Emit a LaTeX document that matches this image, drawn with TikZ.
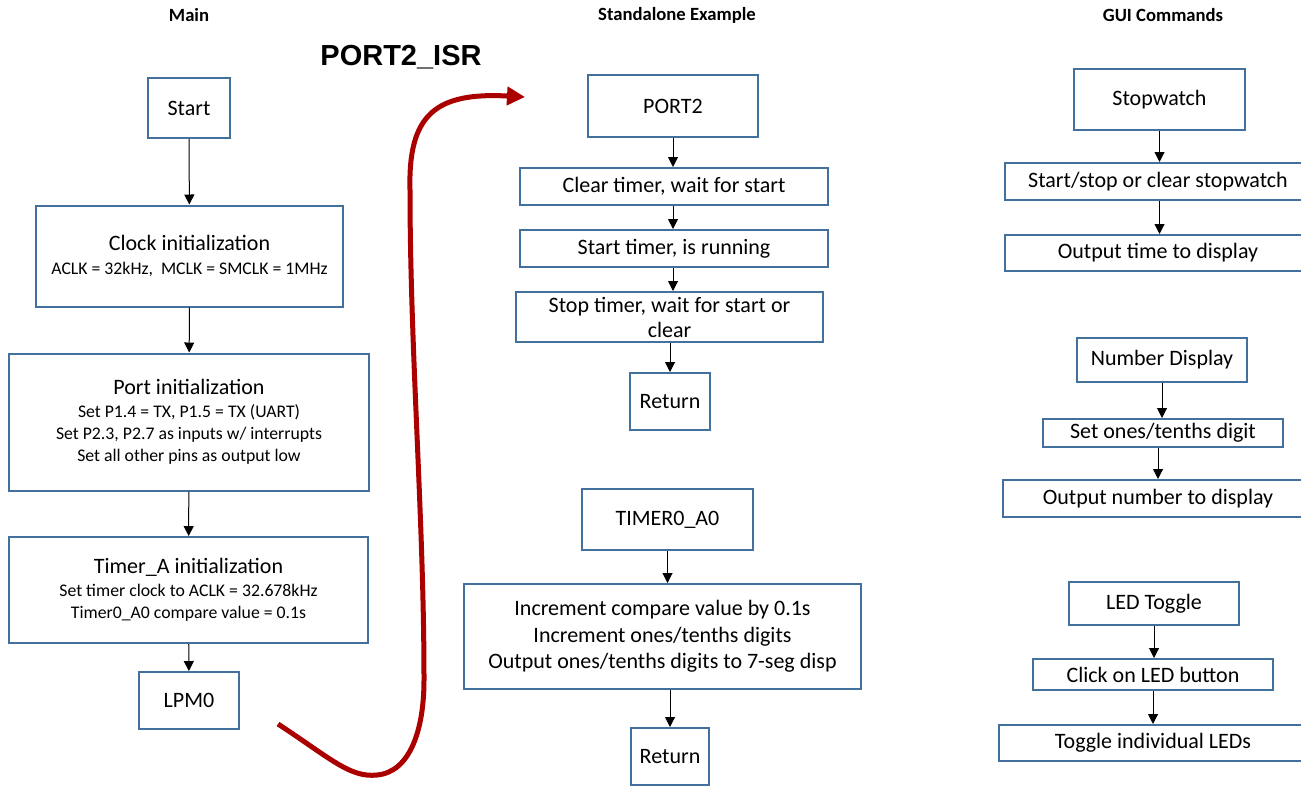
\documentclass[tikz,border=0pt]{standalone}
\usepackage{fontspec}
\setmainfont{Carlito}
\newfontfamily\arialfam{Liberation Sans}
\usetikzlibrary{arrows.meta}
\newdimen\px \px=0.75pt
\newcommand\mainsz{\fontsize{16.5}{20}\selectfont}
\newcommand\subsz{\fontsize{13.3}{16.5}\selectfont}
\definecolor{boxblue}{RGB}{65,113,156}
\definecolor{arcred}{RGB}{170,0,0}
\begin{document}
\begin{tikzpicture}[x=0.75pt,y=-0.75pt,
  box/.style={draw=boxblue, line width=1.5pt, fill=white, inner sep=0pt, align=center, font=\mainsz},
  subbox/.style={box, font=\subsz},
  arr/.style={-{Triangle[length=7.5pt,width=7.5pt]}, line width=0.75pt, black},
  coltitle/.style={font=\bfseries\fontsize{14}{16}\selectfont},
  redarc/.style={arcred, line width=3.75pt, -{Triangle[length=13.5pt,width=13.5pt]}}]
\useasboundingbox (0,0) rectangle (1301,786);
\clip (0,0) rectangle (1301,786);
\fill[white] (0,0) rectangle (1301,786);

% titles
\node[coltitle] (tmain) at (189,15) {Main};
\node[coltitle] (tstand) at (677,15) {Standalone Example};
\node[coltitle] (tgui) at (1163,15) {GUI Commands};
\node[font=\arialfam\bfseries\fontsize{21.75}{24}\selectfont] (isr) at (401,57) {PORT2\_ISR};

% main column
\node[box, minimum width=82\px, minimum height=60\px] (start) at (189,108) {Start};
\node[subbox, minimum width=307\px, minimum height=101\px] (clock) at (189.5,256)
  {{\mainsz Clock initialization}\\[1pt] ACLK = 32kHz,\ \ MCLK = SMCLK = 1MHz};
\node[subbox, minimum width=360\px, minimum height=137\px] (port) at (189,422)
  {{\mainsz Port initialization}\\[1pt] Set P1.4 = TX, P1.5 = TX (UART)\\ Set P2.3, P2.7 as inputs w/ interrupts\\ Set all other pins as output low};
\node[subbox, minimum width=359\px, minimum height=106\px] (timera) at (188.5,590)
  {{\mainsz Timer\_A initialization}\\[1pt] Set timer clock to ACLK = 32.678kHz\\ Timer0\_A0 compare value = 0.1s};
\node[box, minimum width=100\px, minimum height=57\px] (lpm) at (189,700.5) {LPM0};

\draw[arr] (start) -- (clock);
\draw[arr] (clock) -- (port);
\draw[arr] (port) -- (timera);
\draw[arr] (timera) -- (lpm);

% standalone example column
\node[box, minimum width=170\px, minimum height=62\px] (port2) at (673,106) {PORT2};
\node[box, minimum width=308\px, minimum height=37\px] (clr) at (674,186.5) {Clear timer, wait for start};
\node[box, minimum width=308\px, minimum height=37\px] (stt) at (674,248.5) {Start timer, is running};
\node[box, minimum width=307\px, minimum height=50\px, font=\fontsize{16.5}{18.75}\selectfont] (stp) at (669.5,317) {Stop timer, wait for start or\\clear};
\node[box, minimum width=80\px, minimum height=57\px] (ret1) at (670,401.5) {Return};

\draw[arr] (port2.south) -- (port2.south |- clr.north);
\draw[arr] (port2.south |- clr.south) -- (port2.south |- stt.north);
\draw[arr] (port2.south |- stt.south) -- (port2.south |- stp.north);
\draw[arr] (ret1.north |- stp.south) -- (ret1.north);

\node[box, minimum width=171\px, minimum height=61\px] (tmr) at (667.5,519.5) {TIMER0\_A0};
\node[box, minimum width=397\px, minimum height=105\px, font=\fontsize{16.5}{19.9}\selectfont] (inc) at (662.5,636.5)
  {Increment compare value by 0.1s\\ Increment ones/tenths digits\\ Output ones/tenths digits to 7-seg disp};
\node[box, minimum width=78\px, minimum height=57\px] (ret2) at (670,756.5) {Return};

\draw[arr] (tmr.south) -- (tmr.south |- inc.north);
\draw[arr] (ret2.north |- inc.south) -- (ret2.north);

% GUI commands column
\node[box, minimum width=171\px, minimum height=61\px] (sw) at (1159.5,99.5) {Stopwatch};
\node[box, minimum width=306\px, minimum height=37\px] (ss) at (1158,181.5) {Start/stop or clear stopwatch};
\node[box, minimum width=306\px, minimum height=36\px] (ot) at (1158,253) {Output time to display};
\draw[arr] (sw.south) -- (sw.south |- ss.north);
\draw[arr] (sw.south |- ss.south) -- (sw.south |- ot.north);

\node[box, minimum width=170\px, minimum height=44\px] (nd) at (1162,360) {Number Display};
\node[box, minimum width=240\px, minimum height=28\px] (so) at (1163,433) {Set ones/tenths digit};
\node[box, minimum width=310\px, minimum height=37\px] (on) at (1158,498.5) {Output number to display};
\draw[arr] (nd.south) -- (nd.south |- so.north);
\draw[arr] (on.north |- so.south) -- (on.north);

\node[box, minimum width=170\px, minimum height=43\px] (led) at (1154,603.5) {LED Toggle};
\node[box, minimum width=240\px, minimum height=31\px] (clk) at (1153,674.5) {Click on LED button};
\node[box, minimum width=308\px, minimum height=36\px] (tog) at (1153,743) {Toggle individual LEDs};
\draw[arr] (led.south) -- (led.south |- clk.north);
\draw[arr] (clk.south) -- (tog.north);

% red interrupt arc
\coordinate (arcstart) at (278,724);
\coordinate (arcend) at (525,97);
\draw[redarc] (arcstart) .. controls (330,758) and (350,778) .. (377,775)
  .. controls (410,772) and (424,730) .. (424,680)
  .. controls (424,520) and (410,350) .. (410,190)
  .. controls (408,115) and (435,92) .. (arcend);
\end{tikzpicture}
\end{document}
